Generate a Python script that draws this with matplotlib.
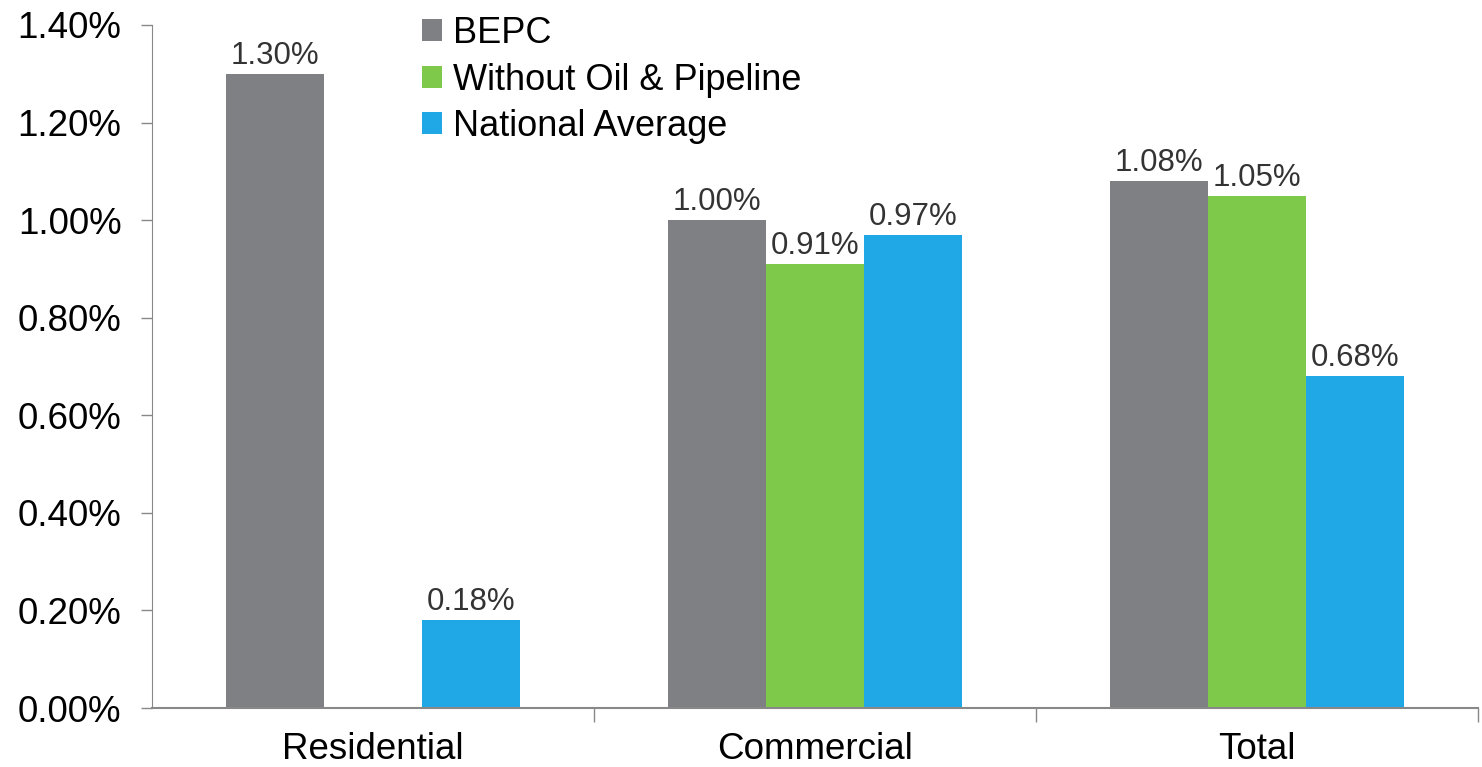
import matplotlib
matplotlib.use("Agg")
import matplotlib.pyplot as plt
import numpy as np

plt.rcParams['font.family'] = ['Liberation Sans', 'DejaVu Sans']

# data
categories = ["Residential", "Commercial", "Total"]
series_names = ["BEPC", "Without Oil & Pipeline", "National Average"]
bepc = [1.30, 1.00, 1.08]
no_oil = [np.nan, 0.91, 1.05]
national = [0.18, 0.97, 0.68]
colors = ["#7e8083", "#7ec94a", "#1fa8e5"]

fig = plt.figure(figsize=(14.82, 7.67), dpi=100)
ax = fig.add_axes([152 / 1482, 1 - 708 / 767, 1326 / 1482, 683 / 767])

x = np.arange(len(categories))
w = 0.222
for i, (vals, name, c) in enumerate(zip([bepc, no_oil, national], series_names, colors)):
    pos = x + (i - 1) * w
    ax.bar(pos, vals, w, color=c, label=name, zorder=2)
    for p, v in zip(pos, vals):
        if np.isnan(v):
            continue
        ax.text(p, v + 0.006, f"{v:.2f}%", ha='center', va='bottom',
                fontsize=22.5, color='#333333')

yt = np.arange(0, 1.41, 0.2)
ax.set_xlim(-0.5, 2.5)
ax.set_ylim(0, 1.40)
ax.set_yticks(yt)
ax.set_yticklabels([f"{t:.2f}%" for t in yt], fontsize=26.5)
ax.set_xticks(x)
ax.set_xticklabels(categories, fontsize=26.5)
ax.tick_params(axis='x', length=0, pad=17)
ax.set_xticks([0.5, 1.5, 2.5], minor=True)
ax.tick_params(axis='x', which='minor', length=10, color='#888888', width=1)
ax.tick_params(axis='y', length=8, color='#888888', width=1, pad=14)

for s in ['top', 'right']:
    ax.spines[s].set_visible(False)
ax.spines['left'].set_color('#888888')
ax.spines['bottom'].set_color('#888888')
ax.spines['bottom'].set_linewidth(1.5)

leg = ax.legend(loc='upper left', bbox_to_anchor=(422 / 1482, 1 - 16 / 767),
                bbox_transform=fig.transFigure, frameon=False, fontsize=26,
                handlelength=0.55, handleheight=0.55, handletextpad=0.3,
                labelspacing=0.32, borderpad=0, borderaxespad=0)

fig.savefig("out.png", dpi=100)
